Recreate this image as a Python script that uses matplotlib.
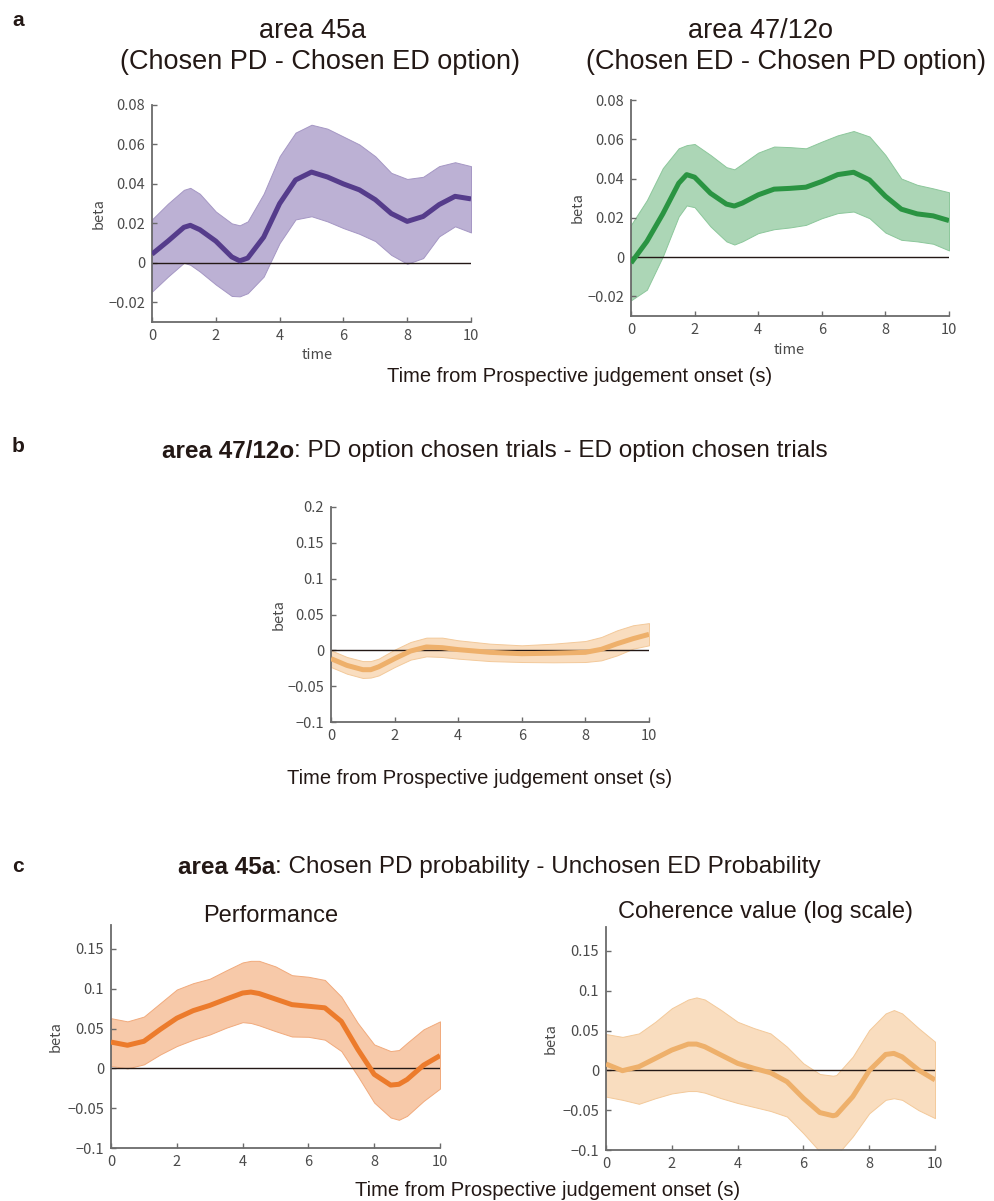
import numpy as np
import matplotlib.pyplot as plt

# panel a, area 45a (Chosen PD - Chosen ED option)
t_45a = [0, 0.5, 1, 1.2, 1.5, 2, 2.5, 2.75, 3, 3.5, 4, 4.5, 5, 5.5, 6, 6.5, 7, 7.5, 8, 8.5, 9, 9.5, 10]
mean_45a = [0.0044, 0.011, 0.018, 0.019, 0.0168, 0.011, 0.003, 0.001, 0.0024, 0.013, 0.030, 0.042, 0.046,
            0.0435, 0.040, 0.037, 0.032, 0.025, 0.021, 0.0235, 0.0295, 0.0337, 0.0324]
hi_45a = [0.022, 0.030, 0.037, 0.038, 0.035, 0.026, 0.020, 0.019, 0.021, 0.035, 0.054, 0.066, 0.070,
          0.068, 0.064, 0.060, 0.054, 0.0456, 0.0425, 0.0436, 0.049, 0.051, 0.049]
lo_45a = [-0.0146, -0.007, 0.0, -0.001, -0.0044, -0.011, -0.0168, -0.017, -0.0154, -0.007, 0.010, 0.022, 0.0236,
          0.021, 0.0176, 0.0147, 0.011, 0.004, -0.0005, 0.0024, 0.0134, 0.0185, 0.0154]

# panel a, area 47/12o (Chosen ED - Chosen PD option)
t_47 = [0, 0.5, 1, 1.5, 1.75, 2, 2.5, 3, 3.25, 3.5, 4, 4.5, 5, 5.5, 6, 6.5, 7, 7.5, 8, 8.5, 9, 9.5, 10]
mean_47 = [-0.003, 0.008, 0.022, 0.0376, 0.042, 0.0407, 0.0325, 0.027, 0.026, 0.0275, 0.0317, 0.0346, 0.035,
           0.0356, 0.0385, 0.042, 0.0432, 0.0393, 0.031, 0.0244, 0.022, 0.021, 0.0186]
hi_47 = [0.0164, 0.029, 0.0453, 0.0554, 0.057, 0.0576, 0.052, 0.0458, 0.0447, 0.0475, 0.0532, 0.0563, 0.056,
         0.0554, 0.0588, 0.062, 0.0642, 0.0614, 0.052, 0.040, 0.0368, 0.035, 0.033]
lo_47 = [-0.022, -0.0166, 0.0003, 0.0207, 0.0263, 0.0254, 0.0156, 0.008, 0.0064, 0.008, 0.0122, 0.0142, 0.0151,
         0.0164, 0.0198, 0.0224, 0.0232, 0.0198, 0.0125, 0.0088, 0.008, 0.0068, 0.0034]

# panel b, area 47/12o PD chosen - ED chosen trials
t_b = [0, 0.5, 1, 1.25, 1.5, 2, 2.5, 3, 3.5, 4, 5, 6, 7, 8, 8.5, 9, 9.5, 10]
mean_b = [-0.0116, -0.021, -0.027, -0.027, -0.023, -0.0116, -0.001, 0.0047, 0.0037, 0.001, -0.0028, -0.0047,
          -0.004, -0.0028, 0.0014, 0.0093, 0.0163, 0.0223]
hi_b = [0.0, -0.0093, -0.015, -0.015, -0.0116, 0.001, 0.0116, 0.0177, 0.0177, 0.014, 0.0093, 0.007, 0.0093,
        0.013, 0.0186, 0.028, 0.035, 0.038]
lo_b = [-0.0233, -0.0326, -0.0386, -0.038, -0.035, -0.0233, -0.013, -0.0084, -0.0093, -0.0116, -0.015, -0.0163,
        -0.0167, -0.0163, -0.014, -0.007, 0.0023, 0.007]

# panel c, area 45a Performance
t_perf = [0, 0.5, 1, 1.5, 2, 2.5, 3, 3.5, 4, 4.25, 4.5, 5, 5.5, 6, 6.5, 7, 7.5, 8, 8.5, 8.75, 9, 9.5, 10]
mean_perf = [0.033, 0.029, 0.034, 0.049, 0.063, 0.0725, 0.079, 0.087, 0.0946, 0.0958, 0.094, 0.087, 0.080,
             0.078, 0.076, 0.059, 0.024, -0.0075, -0.021, -0.020, -0.014, 0.004, 0.016]
hi_perf = [0.063, 0.059, 0.065, 0.082, 0.099, 0.107, 0.1125, 0.123, 0.133, 0.135, 0.135, 0.128, 0.117, 0.115,
           0.111, 0.090, 0.057, 0.030, 0.0217, 0.023, 0.032, 0.049, 0.059]
lo_perf = [0.003, 0.0, 0.005, 0.0175, 0.028, 0.036, 0.0425, 0.051, 0.058, 0.057, 0.054, 0.0467, 0.040, 0.0396,
           0.036, 0.0217, -0.0096, -0.043, -0.0617, -0.0646, -0.0596, -0.041, -0.0254]

# panel c, area 45a Coherence value (log scale)
t_coh = [0, 0.5, 1, 1.5, 2, 2.5, 2.75, 3, 3.5, 4, 4.5, 5, 5.5, 6, 6.5, 6.9, 7, 7.5, 8, 8.5, 8.75, 9, 9.5, 10]
mean_coh = [0.008, -0.0004, 0.0046, 0.015, 0.0255, 0.033, 0.033, 0.0297, 0.0192, 0.0088, 0.0025, -0.003,
            -0.0142, -0.035, -0.053, -0.057, -0.056, -0.033, -0.0004, 0.020, 0.0213, 0.017, 0.0004, -0.012]
hi_coh = [0.0456, 0.042, 0.0464, 0.061, 0.078, 0.089, 0.0916, 0.089, 0.0757, 0.061, 0.053, 0.0464, 0.0297,
          0.0088, -0.0046, -0.0067, -0.0059, 0.0172, 0.0506, 0.0715, 0.0757, 0.0715, 0.053, 0.036]
lo_coh = [-0.033, -0.037, -0.042, -0.035, -0.029, -0.026, -0.026, -0.028, -0.035, -0.041, -0.046, -0.051,
          -0.058, -0.079, -0.102, -0.108, -0.107, -0.083, -0.054, -0.037, -0.035, -0.037, -0.050, -0.060]

TXT = '#231815'
GRAY = '#4a4a4a'
TICK_FONT = ['Noto Sans CJK JP', 'DejaVu Sans']
W, H = 995, 1201

plt.rcParams['font.family'] = ['Liberation Sans', 'DejaVu Sans']
fig = plt.figure(figsize=(W / 100, H / 100), dpi=100)


def box(l, t, r, b):
    # pixel box -> figure fraction
    return [l / W, 1 - b / H, (r - l) / W, (b - t) / H]


def panel(rect, t, m, hi, lo, line_c, fill_c, edge_c, ylim, yticks, ylab_x):
    ax = fig.add_axes(rect)
    ax.fill_between(t, lo, hi, facecolor=fill_c, edgecolor=edge_c, lw=0.7, zorder=1)
    ax.plot([0, 10], [0, 0], color=TXT, lw=1.0, zorder=2)
    ax.plot(t, m, color=line_c, lw=3.6, solid_joinstyle='round', solid_capstyle='butt', zorder=3)
    ax.set_xlim(0, 10)
    ax.set_ylim(*ylim)
    ax.set_xticks(range(0, 11, 2))
    ax.set_yticks(yticks)
    ax.set_yticklabels([('%g' % v).replace('-', '\u2212') for v in yticks], fontfamily=TICK_FONT)
    ax.set_xticklabels([str(v) for v in range(0, 11, 2)], fontfamily=TICK_FONT)
    for s in ['top', 'right']:
        ax.spines[s].set_visible(False)
    for s in ['left', 'bottom']:
        ax.spines[s].set_color('#6b6b6b')
        ax.spines[s].set_linewidth(1.3)
    ax.tick_params(direction='in', length=3.5, width=1.0, color='#6b6b6b', labelcolor=GRAY,
                   labelsize=10.5, pad=5)
    y_mid = rect[1] + rect[3] / 2
    fig.text(ylab_x / W, y_mid, 'beta', rotation=90, ha='center', va='center', color=GRAY,
             fontsize=10.5, family=TICK_FONT)
    ax.set_facecolor('none')
    return ax


def ftext(x, y, s, **kw):
    kw.setdefault('color', TXT)
    fig.text(x / W, 1 - y / H, s, ha='center', va='center', **kw)


# ---- panel a ----
panel(box(152, 105, 471, 322), t_45a, mean_45a, hi_45a, lo_45a, '#553c8b', '#bcb1d4', '#a597c4',
      (-0.03, 0.08), [-0.02, 0, 0.02, 0.04, 0.06, 0.08], 99)
panel(box(631, 100, 949, 316), t_47, mean_47, hi_47, lo_47, '#2a9442', '#acd6b6', '#8cc79b',
      (-0.03, 0.08), [-0.02, 0, 0.02, 0.04, 0.06, 0.08], 578)
ftext(313, 31, 'area 45a', fontsize=19.5)
ftext(320, 62, '(Chosen PD - Chosen ED option)', fontsize=19.5)
ftext(761, 31, 'area 47/12o', fontsize=19.5)
ftext(786, 62, '(Chosen ED - Chosen PD option)', fontsize=19.5)
ftext(317, 355, 'time', fontsize=10.5, color=GRAY, family=TICK_FONT)
ftext(789, 350, 'time', fontsize=10.5, color=GRAY, family=TICK_FONT)
ftext(580, 377, 'Time from Prospective judgement onset (s)', fontsize=14.5)

# ---- panel b ----
panel(box(331, 507, 649, 722), t_b, mean_b, hi_b, lo_b, '#eeb06b', '#f9ddbf', '#f3c99a',
      (-0.1, 0.2), [-0.1, -0.05, 0, 0.05, 0.1, 0.15, 0.2], 279)
tb = fig.text(162 / W, 1 - 451 / H, 'area 47/12o', fontsize=17.5, fontweight='bold', color=TXT,
              ha='left', va='center')
ftext(480, 778, 'Time from Prospective judgement onset (s)', fontsize=14.5)

# ---- panel c ----
panel(box(111, 925, 440, 1148), t_perf, mean_perf, hi_perf, lo_perf, '#ec7b2c', '#f7c9a9', '#f1aa7c',
      (-0.1, 0.18), [-0.1, -0.05, 0, 0.05, 0.1, 0.15], 56)
panel(box(606, 927, 935, 1150), t_coh, mean_coh, hi_coh, lo_coh, '#eeb06b', '#f9ddbf', '#f3c99a',
      (-0.1, 0.18), [-0.1, -0.05, 0, 0.05, 0.1, 0.15], 551)
tc = fig.text(178 / W, 1 - 867 / H, 'area 45a', fontsize=17.5, fontweight='bold', color=TXT,
              ha='left', va='center')
ftext(271, 916, 'Performance', fontsize=17)
ftext(766, 912, 'Coherence value (log scale)', fontsize=17)
ftext(548, 1191, 'Time from Prospective judgement onset (s)', fontsize=14.5)

# rest of the mixed-weight titles, placed right after the bold part
fig.canvas.draw()
r = fig.canvas.get_renderer()
for bold, rest in [(tb, ': PD option chosen trials - ED option chosen trials'),
                   (tc, ': Chosen PD probability - Unchosen ED Probability')]:
    bb = bold.get_window_extent(r)
    x0 = fig.transFigure.inverted().transform((bb.x1, 0))[0]
    fig.text(x0, bold.get_position()[1], rest, fontsize=17.5, color=TXT, ha='left', va='center')

# panel letters
for s, y in [('a', 21), ('b', 446), ('c', 867)]:
    fig.text(18 / W, 1 - y / H, s, fontsize=15, fontweight='bold', color=TXT, ha='center', va='center')

fig.savefig('out.png', dpi=100)
